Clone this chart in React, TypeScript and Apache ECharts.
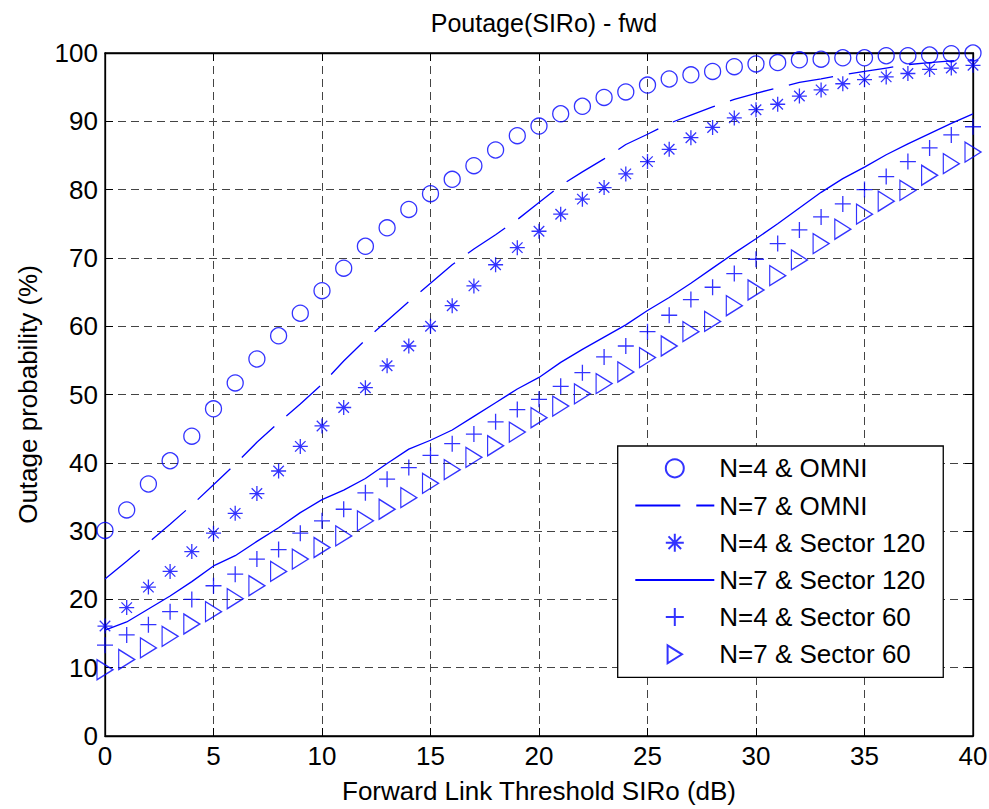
import React, { useEffect, useRef } from "react";
import * as echarts from "echarts";

const TITLE = "Poutage(SIRo) - fwd";
const X_NAME = "Forward Link Threshold SIRo (dB)";
const Y_NAME = "Outage probability (%)";

const SIR_DB = [0, 1, 2, 3, 4, 5, 6, 7, 8, 9, 10, 11, 12, 13, 14, 15, 16, 17, 18, 19, 20, 21, 22, 23, 24, 25, 26, 27, 28, 29, 30, 31, 32, 33, 34, 35, 36, 37, 38, 39, 40];

const N4_OMNI = [30.1, 33.1, 36.9, 40.3, 43.9, 47.9, 51.7, 55.2, 58.6, 61.9, 65.2, 68.5, 71.7, 74.4, 77.1, 79.4, 81.5, 83.5, 85.8, 87.9, 89.3, 91.1, 92.2, 93.5, 94.3, 95.3, 96.2, 96.8, 97.3, 98.0, 98.4, 98.6, 99.0, 99.1, 99.3, 99.3, 99.6, 99.6, 99.7, 99.9, 100];
const N7_OMNI = [23.0, 25.6, 28.3, 31.0, 33.8, 36.8, 39.8, 43.0, 45.9, 48.6, 51.5, 54.9, 58.0, 60.8, 63.6, 66.3, 69.0, 71.3, 73.4, 75.6, 78.1, 80.6, 82.6, 84.5, 86.6, 88.1, 89.7, 90.9, 92.1, 93.2, 94.1, 94.9, 95.7, 96.2, 96.8, 97.3, 97.8, 98.3, 98.6, 98.85, 99.0];
const N4_SEC120 = [16.1, 18.8, 21.8, 24.1, 27.0, 29.7, 32.6, 35.5, 38.8, 42.4, 45.4, 48.1, 51.0, 54.2, 57.1, 60.0, 63.0, 65.9, 69.0, 71.5, 73.9, 76.4, 78.6, 80.3, 82.3, 84.1, 85.9, 87.6, 89.1, 90.5, 91.7, 92.5, 93.7, 94.6, 95.5, 96.1, 96.5, 97.0, 97.6, 97.8, 98.2];
const N7_SEC120 = [15.5, 16.7, 18.6, 20.5, 22.6, 24.9, 26.4, 28.5, 30.5, 32.7, 34.6, 36.0, 37.7, 39.9, 42.0, 43.3, 44.8, 46.8, 48.8, 50.8, 52.5, 54.7, 56.6, 58.4, 60.2, 62.3, 64.2, 66.3, 68.5, 70.7, 72.8, 75.0, 77.3, 79.6, 81.6, 83.3, 85.1, 86.7, 88.2, 89.7, 91.1];
const N4_SEC60 = [13.3, 14.8, 16.3, 18.2, 20.0, 22.0, 23.7, 25.9, 27.3, 29.7, 31.5, 33.2, 35.6, 37.6, 39.3, 41.1, 42.8, 44.2, 46.0, 47.8, 49.3, 51.2, 53.2, 55.5, 57.1, 59.2, 61.6, 63.9, 65.7, 67.7, 69.8, 72.1, 74.1, 76.0, 77.9, 80.0, 81.9, 84.1, 86.1, 88.0, 89.2];
const N7_SEC60 = [9.7, 11.2, 12.9, 14.6, 16.4, 18.2, 20.1, 22.0, 24.1, 25.9, 27.6, 29.3, 31.5, 33.2, 34.9, 37.0, 39.0, 40.8, 42.5, 44.5, 46.6, 48.3, 50.1, 51.6, 53.3, 55.4, 57.1, 59.2, 60.7, 63.0, 65.3, 67.4, 69.7, 72.1, 74.2, 76.4, 78.3, 79.9, 82.1, 83.8, 85.5];

const SERIES_NAMES = [
  "N=4 & OMNI",
  "N=7 & OMNI",
  "N=4 & Sector 120",
  "N=7 & Sector 120",
  "N=4 & Sector 60",
  "N=7 & Sector 60",
];

const FONT = "'Liberation Sans', Arial, Helvetica, sans-serif";
const BLUE = "#0000ff";

const ASTERISK = "path://M0,10 L20,10 M10,0 L10,20 M3,3 L17,17 M3,17 L17,3";
const PLUS = "path://M0,8 L16,8 M8,0 L8,16";
const TRIANGLE = "path://M0,0 L16,10 L0,20 Z";

const pairs = (ys: number[]) => SIR_DB.map((x, i) => [x, ys[i]]);

export default function App() {
  const ref = useRef<HTMLDivElement>(null);

  useEffect(() => {
    if (!ref.current) return;
    const chart = echarts.init(ref.current, undefined, { renderer: "svg" });

    const markerStyle = { color: "none", borderColor: BLUE, borderWidth: 1.3 };
    const scatter = (name: string, ys: number[], symbol: string, size: any) => ({
      name,
      type: "scatter",
      data: pairs(ys),
      symbol,
      symbolSize: size,
      clip: false,
      itemStyle: markerStyle,
      emphasis: { disabled: true },
      z: 3,
    });
    const line = (name: string, ys: number[], dash: any) => ({
      name,
      type: "line",
      data: pairs(ys),
      symbol: "none",
      showSymbol: false,
      clip: false,
      lineStyle: { color: BLUE, width: 1.3, type: dash },
      itemStyle: { color: BLUE },
      emphasis: { disabled: true },
      z: 3,
    });

    const axisText = { fontFamily: FONT, fontSize: 26, color: "#000" };
    const hiddenSymbol = { color: "transparent", borderWidth: 0, borderColor: "transparent" };

    chart.setOption({
      animation: false,
      backgroundColor: "#ffffff",
      textStyle: { fontFamily: FONT },
      title: {
        text: TITLE,
        left: 539,
        top: 5,
        textAlign: "center",
        textStyle: { fontFamily: FONT, fontSize: 25, fontWeight: "normal", color: "#000" },
      },
      grid: {
        left: 105,
        right: 16,
        top: 53,
        bottom: 73,
        show: true,
        borderColor: "#000",
        borderWidth: 1.3,
        backgroundColor: "#fff",
        outerBoundsMode: "none",
      },
      legend: {
        orient: "vertical",
        left: 617.7,
        top: 446,
        padding: [9.3, 18, 10, 16.6],
        backgroundColor: "#fff",
        borderColor: "#000",
        borderWidth: 1.3,
        borderRadius: 0,
        itemWidth: 79,
        itemHeight: 18,
        itemGap: 11.2,
        selectedMode: false,
        textStyle: { fontFamily: FONT, fontSize: 26, color: "#000", lineHeight: 26 },
        data: [
          { name: SERIES_NAMES[0] },
          { name: SERIES_NAMES[1], itemStyle: hiddenSymbol },
          { name: SERIES_NAMES[2] },
          { name: SERIES_NAMES[3], itemStyle: hiddenSymbol },
          { name: SERIES_NAMES[4] },
          { name: SERIES_NAMES[5] },
        ],
      },
      xAxis: [
        {
          type: "value",
          min: 0,
          max: 40,
          interval: 5,
          name: X_NAME,
          nameLocation: "middle",
          nameGap: 42,
          nameTextStyle: axisText,
          axisLine: { show: true, onZero: false, lineStyle: { color: "#000", width: 1.3 } },
          axisTick: { show: true, inside: true, length: 8, lineStyle: { color: "#000", width: 1 } },
          axisLabel: { ...axisText, margin: 7 },
          splitLine: { show: true, lineStyle: { type: [8, 5], color: "#444", width: 1 } },
        },
        {
          type: "value",
          position: "top",
          min: 0,
          max: 40,
          interval: 5,
          axisLine: { show: true, onZero: false, lineStyle: { color: "#000", width: 1.3 } },
          axisTick: { show: true, inside: true, length: 8, lineStyle: { color: "#000", width: 1 } },
          axisLabel: { show: false },
          splitLine: { show: false },
        },
      ],
      yAxis: [
        {
          type: "value",
          min: 0,
          max: 100,
          interval: 10,
          name: Y_NAME,
          nameLocation: "middle",
          nameGap: 64,
          nameTextStyle: axisText,
          axisLine: { show: true, onZero: false, lineStyle: { color: "#000", width: 1.3 } },
          axisTick: { show: true, inside: true, length: 8, lineStyle: { color: "#000", width: 1 } },
          axisLabel: { ...axisText, margin: 7 },
          splitLine: { show: true, lineStyle: { type: [8, 5], color: "#444", width: 1 } },
        },
        {
          type: "value",
          position: "right",
          min: 0,
          max: 100,
          interval: 10,
          axisLine: { show: true, onZero: false, lineStyle: { color: "#000", width: 1.3 } },
          axisTick: { show: true, inside: true, length: 8, lineStyle: { color: "#000", width: 1 } },
          axisLabel: { show: false },
          splitLine: { show: false },
        },
      ],
      series: [
        scatter(SERIES_NAMES[0], N4_OMNI, "circle", 16),
        line(SERIES_NAMES[1], N7_OMNI, [45, 16]),
        scatter(SERIES_NAMES[2], N4_SEC120, ASTERISK, 15),
        line(SERIES_NAMES[3], N7_SEC120, "solid"),
        scatter(SERIES_NAMES[4], N4_SEC60, PLUS, 16),
        scatter(SERIES_NAMES[5], N7_SEC60, TRIANGLE, [16, 20]),
      ],
    });

    return () => chart.dispose();
  }, []);

  return (
    <div
      ref={ref}
      style={{ position: "fixed", left: 0, top: 0, width: 989, height: 809, background: "#fff" }}
    />
  );
}
